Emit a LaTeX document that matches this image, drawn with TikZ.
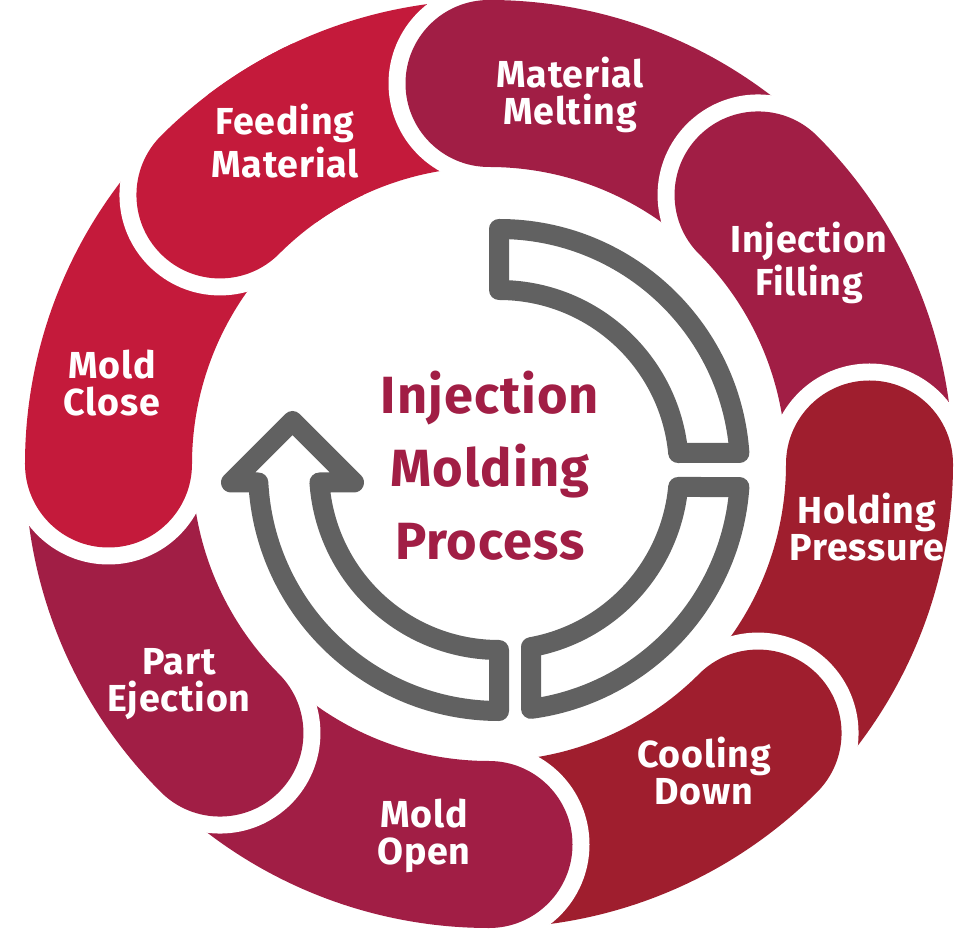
\documentclass[tikz,border=0pt]{standalone}
\usepackage{fontspec}
\setmainfont{Fira Sans}[LetterSpace=2]
\definecolor{rouge}{HTML}{C41A3B}
\definecolor{bordeaux}{HTML}{A11E45}
\definecolor{brique}{HTML}{9F1E2E}
\definecolor{gris}{HTML}{616161}

\begin{document}
\begin{tikzpicture}
\tikzstyle{fleche}=[draw=gris,line width=2mm,line join=round]
\tikzset{etape/.style={fill=#1},
etape/.default={rouge}}
\tikzset{texte/.style={text=white,align=center,font=\fontsize{10.7}{10.5}\selectfont\bfseries},
titre/.style={text=bordeaux,align=center,font=\fontsize{14.9}{20.8}\selectfont\bfseries}}
\useasboundingbox (-4.89,-4.66) rectangle (4.73,4.64);

% anneau
\fill[white] (135:3.805) circle (1.005);
\fill[etape] (135:2.97) arc[start angle=315,end angle=135,radius=0.835] arc[start angle=135,end angle=90,radius=4.64] -- (90:2.97) arc[start angle=90,end angle=135,radius=2.97] -- cycle;

\fill[white] (90:3.805) circle (1.005);
\fill[etape=bordeaux] (90:2.97) arc[start angle=270,end angle=90,radius=0.835] arc[start angle=90,end angle=45,radius=4.64] -- (45:2.97) arc[start angle=45,end angle=90,radius=2.97] -- cycle;

\fill[white] (45:3.805) circle (1.005);
\fill[etape=bordeaux] (45:2.97) arc[start angle=225,end angle=45,radius=0.835] arc[start angle=45,end angle=0,radius=4.64] -- (0:2.97) arc[start angle=0,end angle=45,radius=2.97] -- cycle;

\fill[white] (0:3.805) circle (1.005);
\fill[etape=brique] (0:2.97) arc[start angle=180,end angle=0,radius=0.835] arc[start angle=0,end angle=-45,radius=4.64] -- (-45:2.97) arc[start angle=-45,end angle=0,radius=2.97] -- cycle;

\fill[white] (-45:3.805) circle (1.005);
\fill[etape=brique] (-45:2.97) arc[start angle=135,end angle=-45,radius=0.835] arc[start angle=-45,end angle=-90,radius=4.64] -- (-90:2.97) arc[start angle=-90,end angle=-45,radius=2.97] -- cycle;

\fill[white] (-90:3.805) circle (1.005);
\fill[etape=bordeaux] (-90:2.97) arc[start angle=90,end angle=-90,radius=0.835] arc[start angle=-90,end angle=-135,radius=4.64] -- (-135:2.97) arc[start angle=-135,end angle=-90,radius=2.97] -- cycle;

\fill[white] (-135:3.805) circle (1.005);
\fill[etape=bordeaux] (-135:2.97) arc[start angle=45,end angle=-135,radius=0.835] arc[start angle=-135,end angle=-180,radius=4.64] -- (180:2.97) arc[start angle=180,end angle=225,radius=2.97] -- cycle;

\fill[white] (180:3.805) circle (1.005);
\fill[etape] (180:2.97) arc[start angle=360,end angle=180,radius=0.835] arc[start angle=180,end angle=135,radius=4.64] -- (135:2.97) arc[start angle=135,end angle=180,radius=2.97] -- cycle;

% le bout de Feeding passe sur Mold Close
\fill[white] (135:3.805) circle (1.005);
\fill[etape] (135:2.97) arc[start angle=315,end angle=135,radius=0.835] arc[start angle=135,end angle=115,radius=4.64] -- (115:2.97) arc[start angle=115,end angle=135,radius=2.97] -- cycle;

\node[texte] (A) at (-2.04,3.23) {Feeding\\Material};
\node[texte] (B) at (0.81,3.695) {Material\\Melting};
\node[texte] (C) at (3.20,2.01) {Injection\\Filling};
\node[texte] (D) at (3.78,-0.635) {Holding\\Pressure};
\node[texte] (E) at (2.15,-3.07) {Cooling\\Down};
\node[texte] (F) at (-0.65,-3.72) {Mold\\Open};
\node[texte] (G) at (-3.10,-2.205) {Part\\Ejection};
\node[texte] (H) at (-3.77,0.81) {Mold\\Close};

% fleche du milieu
\begin{scope}[shift={(0.10,-0.06)}]
\draw[fleche] (90:2.41) arc[start angle=90,end angle=4.05,radius=2.41] -- (5.42:1.80) arc[start angle=5.42,end angle=90,radius=1.80] -- cycle;
\draw[fleche] (-4.05:2.41) arc[start angle=-4.05,end angle=-82.37,radius=2.41] -- (-79.76:1.80) arc[start angle=-79.76,end angle=-5.42,radius=1.80] -- cycle;
\draw[fleche] (270:2.41) arc[start angle=270,end angle=182.97,radius=2.41] -- (-2.68,-0.125) -- (-2.065,0.49) -- (-1.45,-0.125) -- (183.98:1.80) arc[start angle=183.98,end angle=270,radius=1.80] -- cycle;
\end{scope}

\node[titre] (T) at (0.01,-0.02) {Injection\\Molding\\Process};
\end{tikzpicture}
\end{document}
